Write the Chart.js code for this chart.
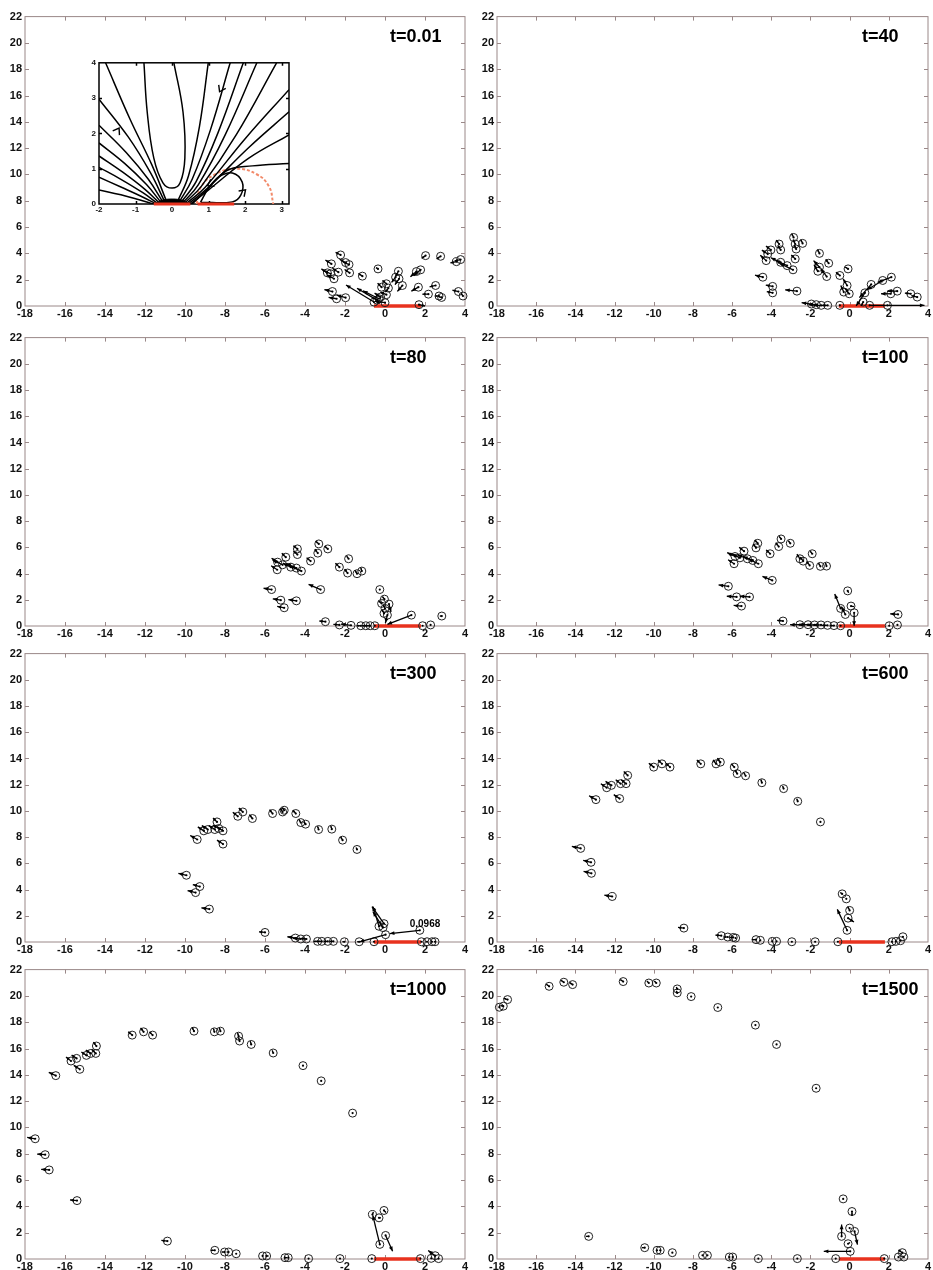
<!DOCTYPE html>
<html>
<head>
<meta charset="utf-8">
<script src="https://cdn.jsdelivr.net/npm/chart.js@4.4.1/dist/chart.umd.min.js"></script>
<style>
  body { margin: 0; background: #fff; width: 933px; height: 1270px; overflow: hidden; position: relative; }
  canvas { position: absolute; }
</style>
</head>
<body>
<script>
// axis ticks
const xTicks = [-18, -16, -14, -12, -10, -8, -6, -4, -2, 0, 2, 4];
const yTicks = [0, 2, 4, 6, 8, 10, 12, 14, 16, 18, 20, 22];
const insetXTicks = [-2, -1, 0, 1, 2, 3];
const insetYTicks = [0, 1, 2, 3, 4];

// red plate on the wall
const plateX = [-0.55, 1.8];

// particles per snapshot: [x, y, u, v]  (position + velocity arrow)
const t001 = [
  [-2.22,3.88,-0.25,0.2],[-2.68,3.2,-0.3,0.3],[-1.97,3.3,-0.3,0.25],[-1.8,3.15,-0.3,0.2],
  [-2.88,2.52,-0.3,0.3],[-2.72,2.45,-0.35,0.25],[-2.33,2.57,-0.3,0.3],[-2.55,2.07,-0.35,0.3],
  [-1.77,2.52,-0.25,0.25],[-1.13,2.27,-0.2,0.2],[-0.35,2.82,-0.1,0.1],[-2.63,1.1,-0.4,0.15],
  [-2.42,0.55,-0.4,0.1],[-1.97,0.63,-0.45,0.2],[-0.17,1.43,-0.2,0.3],[0.07,1.69,-0.2,0.25],
  [0.17,1.36,-0.15,-0.3],[0.07,0.86,-0.3,0.2],[-0.22,0.68,-0.3,0.3],[-0.55,0.3,-1.4,1.3],
  [-0.4,0.45,-1.0,0.9],[-0.3,0.55,-0.8,0.6],[0.0,0.25,-0.5,0.1],[0.53,2.19,-0.2,-0.4],
  [0.67,2.64,-0.15,-0.4],[0.7,2.07,-0.2,-0.45],[0.87,1.56,-0.25,-0.45],[1.57,2.62,-0.3,-0.4],
  [1.78,2.75,-0.35,-0.45],[1.67,1.43,-0.35,-0.3],[2.03,3.83,-0.2,-0.2],[2.78,3.78,-0.2,-0.2],
  [2.53,1.56,-0.3,-0.1],[2.17,0.9,-0.3,0],[2.7,0.76,-0.2,0],[2.83,0.65,-0.15,0.05],
  [3.57,3.37,-0.3,-0.1],[3.78,3.53,-0.3,-0.1],[3.67,1.1,-0.3,0.1],[3.9,0.76,-0.1,0.2],
  [1.7,0.1,0.3,-0.1]
];
const t40 = [
  [-2.86,5.21,-0.1,0.3],[-2.78,4.71,-0.1,0.35],[-2.4,4.76,-0.1,0.3],[-2.73,4.33,-0.1,0.3],
  [-3.6,4.71,-0.15,0.3],[-3.52,4.26,-0.15,0.35],[-4.02,4.26,-0.25,0.3],[-4.18,3.95,-0.3,0.3],
  [-4.26,3.45,-0.3,0.4],[-3.52,3.32,-0.5,0.35],[-3.19,3.07,-0.6,0.4],[-2.89,2.75,-0.7,0.5],
  [-2.78,3.58,-0.2,0.3],[-1.54,4.0,-0.1,0.3],[-1.54,2.95,-0.3,0.5],[-1.07,3.25,-0.15,0.3],
  [-1.17,2.24,-0.3,0.6],[-1.62,2.64,-0.2,0.5],[-0.08,2.82,-0.15,0.15],[-0.5,2.32,-0.2,0.25],
  [-0.13,1.56,-0.2,0.5],[-0.3,1.06,-0.15,0.5],[-0.02,0.93,-0.2,0.4],[-0.5,0.05,0,0],
  [-1.12,0.05,-0.3,0],[-1.45,0.05,-0.4,0],[-1.7,0.1,-0.4,0],[-1.95,0.15,-0.5,0.1],
  [-4.43,2.19,-0.4,0.15],[-3.93,1.49,-0.35,0.1],[-3.93,1.0,-0.3,0.1],[-2.69,1.13,-0.6,0.1],
  [0.78,1.0,-0.45,-1.0],[1.1,1.64,-0.6,-1.0],[1.69,1.94,-0.8,-0.7],[2.13,2.19,-0.7,-0.4],
  [2.43,1.13,-0.5,0],[2.1,0.93,-0.5,0],[3.12,0.93,-0.3,0.05],[3.45,0.68,-0.3,0.1],
  [0.69,0.3,-0.1,-0.3],[1.02,0.05,2.8,0],[1.93,0.05,0,0]
];
const t80 = [
  [-3.31,6.26,-0.15,0.2],[-3.36,5.56,-0.15,0.3],[-2.86,5.88,-0.15,0.2],[-4.38,5.88,-0.2,0.25],
  [-4.38,5.45,-0.2,0.25],[-4.96,5.25,-0.2,0.3],[-5.37,4.87,-0.3,0.3],[-5.12,4.67,-0.5,0.35],
  [-5.39,4.29,-0.3,0.3],[-4.71,4.49,-0.4,0.3],[-4.43,4.42,-0.5,0.35],[-4.18,4.19,-0.6,0.4],
  [-3.72,4.95,-0.2,0.25],[-1.82,5.13,-0.1,0.2],[-2.28,4.49,-0.2,0.3],[-1.87,4.04,-0.15,0.3],
  [-1.4,3.99,-0.1,0.25],[-1.16,4.19,-0.05,0.25],[-5.67,2.78,-0.4,0.1],[-5.21,1.97,-0.4,0.1],
  [-5.04,1.39,-0.35,0.1],[-4.43,1.92,-0.4,0.1],[-3.22,2.78,-0.6,0.4],[-2.98,0.33,-0.3,0.05],
  [-2.28,0.08,-0.3,0.05],[-1.7,0.05,-0.5,0.1],[-1.21,0.02,-0.2,0],[-0.96,0.02,-0.2,0],
  [-0.74,0.02,-0.2,0],[-0.51,0.02,0,0],[-0.26,2.78,0,0.1],[-0.03,2.05,-0.1,0.2],
  [-0.17,1.72,-0.15,0.2],[0.2,1.67,0.1,-0.6],[0,1.34,-0.1,0.3],[-0.05,0.96,-0.1,0.3],
  [0.12,0.83,-0.1,-0.6],[1.32,0.83,-1.2,-0.7],[1.88,0.02,0,0],[2.28,0.08,0.1,0],
  [2.84,0.76,-0.1,0]
];
const t100 = [
  [-3.5,6.64,-0.1,0.2],[-3.62,6.06,-0.15,0.3],[-3.03,6.31,-0.1,0.2],[-4.69,6.31,-0.15,0.25],
  [-4.78,5.96,-0.15,0.3],[-4.06,5.51,-0.2,0.3],[-5.39,5.71,-0.25,0.3],[-5.85,5.3,-0.4,0.3],
  [-5.6,5.2,-0.4,0.3],[-5.22,5.13,-0.5,0.3],[-4.94,5.0,-0.5,0.3],[-4.66,4.75,-0.5,0.35],
  [-5.9,4.75,-0.3,0.3],[-2.54,5.13,-0.15,0.35],[-2.37,4.95,-0.15,0.3],[-1.91,5.51,-0.1,0.2],
  [-2.04,4.62,-0.15,0.3],[-1.49,4.55,-0.1,0.25],[-1.18,4.57,-0.05,0.25],[-6.19,3.03,-0.5,0.1],
  [-5.77,2.22,-0.5,0.05],[-5.11,2.22,-0.5,0.05],[-5.52,1.52,-0.4,0.05],[-3.95,3.48,-0.5,0.3],
  [-3.4,0.38,-0.3,0.05],[-2.54,0.1,-0.5,0],[-2.12,0.1,-0.5,0],[-1.79,0.08,-0.4,0],
  [-1.46,0.08,-0.4,0],[-1.13,0.05,-0.3,0],[-0.8,0.03,-0.2,0],[-0.46,0.02,0,0],
  [-0.1,2.68,0.05,-0.15],[-0.46,1.34,-0.3,1.1],[-0.22,0.88,-0.2,0.6],[0.07,1.52,0.15,-0.05],
  [0.23,1.01,0,-1.0],[2.02,0.02,0,0],[2.44,0.08,0,0],[2.47,0.88,-0.4,0.05]
];
const t300 = [
  [-1.4,7.06,-0.05,0.15],[-2.12,7.77,-0.1,0.25],[-2.66,8.61,-0.05,0.25],[-3.32,8.58,-0.05,0.25],
  [-3.97,8.99,-0.1,0.2],[-4.21,9.11,-0.1,0.25],[-4.46,9.8,-0.15,0.25],[-5.04,10.05,-0.1,0.2],
  [-5.12,9.92,-0.1,0.25],[-5.62,9.8,-0.15,0.3],[-6.63,9.42,-0.15,0.3],[-7.11,9.92,-0.2,0.3],
  [-7.36,9.59,-0.25,0.3],[-8.1,8.48,-0.3,0.3],[-8.31,8.66,-0.3,0.25],[-8.4,9.16,-0.2,0.3],
  [-8.51,8.58,-0.3,0.3],[-8.86,8.58,-0.3,0.3],[-9.06,8.48,-0.3,0.3],[-8.1,7.47,-0.3,0.3],
  [-9.39,7.82,-0.35,0.3],[-9.93,5.09,-0.4,0.15],[-9.26,4.23,-0.35,0.15],[-9.47,3.77,-0.4,0.15],
  [-8.78,2.51,-0.4,0.1],[-6.0,0.73,-0.3,0.05],[-4.48,0.3,-0.4,0.1],[-4.21,0.23,-0.4,0.05],
  [-3.93,0.23,-0.3,0.05],[-3.37,0.05,-0.2,0],[-3.16,0.05,-0.2,0],[-2.86,0.05,-0.2,0],
  [-2.58,0.05,-0.2,0],[-2.03,0.02,-0.1,0],[-1.29,0.02,-0.1,0],[-0.55,0.02,0,0],
  [0.03,0.56,-1.3,-0.55],[1.74,0.89,-1.5,-0.25],[-0.05,1.4,-0.6,1.3],[-0.3,1.2,-0.3,1.5],
  [-0.1,1.1,-0.5,1.2],[1.82,0.02,0,0],[2.1,0.02,0,0],[2.35,0.02,0,0],[2.5,0.02,0,0]
];
const t600 = [
  [-1.49,9.16,0,0.15],[-2.65,10.73,-0.05,0.2],[-3.37,11.7,-0.05,0.2],[-4.48,12.15,-0.05,0.25],
  [-5.31,12.68,-0.1,0.25],[-5.74,12.84,-0.1,0.25],[-5.89,13.34,-0.15,0.25],[-6.6,13.72,-0.15,0.3],
  [-6.82,13.59,-0.15,0.3],[-7.6,13.59,-0.2,0.3],[-9.17,13.34,-0.2,0.3],[-9.58,13.59,-0.2,0.3],
  [-10.0,13.34,-0.25,0.3],[-11.33,12.71,-0.2,0.3],[-11.41,12.08,-0.25,0.3],[-11.69,12.08,-0.25,0.3],
  [-11.74,10.94,-0.3,0.3],[-12.16,11.95,-0.3,0.3],[-12.4,11.77,-0.3,0.3],[-12.95,10.86,-0.35,0.3],
  [-13.73,7.14,-0.45,0.15],[-13.2,6.08,-0.4,0.15],[-13.18,5.24,-0.4,0.15],[-12.12,3.47,-0.4,0.1],
  [-8.46,1.06,-0.3,0.05],[-6.55,0.48,-0.3,0.05],[-6.22,0.38,-0.2,0],[-5.94,0.35,-0.2,0],
  [-5.82,0.3,-0.1,0],[-4.78,0.18,-0.2,0],[-4.56,0.13,-0.1,0],[-3.95,0.05,-0.1,0],
  [-3.73,0.05,-0.05,0],[-2.95,0.02,0,0],[-1.76,0.02,0,0],[-0.6,0.02,0,0],
  [-0.38,3.67,-0.1,0.1],[-0.17,3.29,-0.05,0.05],[0,2.41,-0.1,0.3],[-0.08,1.82,0.3,-0.3],
  [-0.13,0.89,-0.5,1.6],[2.16,0.02,0,0],[2.36,0.05,0,0],[2.6,0.1,0,0],[2.72,0.4,0,0]
];
const t1000 = [
  [-1.62,11.09,0,0.1],[-3.19,13.54,0,0.15],[-4.1,14.7,0,0.15],[-5.59,15.66,-0.05,0.2],
  [-6.69,16.31,-0.05,0.25],[-7.27,16.57,-0.05,0.25],[-7.32,16.94,-0.05,0.25],[-8.23,17.32,-0.05,0.25],
  [-8.53,17.27,-0.05,0.25],[-9.55,17.32,-0.1,0.3],[-11.62,17.02,-0.15,0.25],[-12.07,17.27,-0.15,0.3],
  [-12.64,17.02,-0.2,0.25],[-14.43,16.19,-0.15,0.3],[-14.46,15.63,-0.2,0.3],[-14.71,15.63,-0.25,0.25],
  [-14.93,15.48,-0.25,0.25],[-15.42,15.25,-0.25,0.25],[-15.7,15.05,-0.25,0.3],[-15.26,14.42,-0.3,0.3],
  [-16.46,13.94,-0.35,0.25],[-17.49,9.14,-0.4,0.1],[-16.99,7.93,-0.4,0.05],[-16.79,6.77,-0.4,0.05],
  [-15.4,4.44,-0.35,0.05],[-10.88,1.36,-0.3,0.05],[-8.51,0.66,-0.2,0],[-8.02,0.53,-0.15,0],
  [-7.82,0.53,-0.1,0],[-7.44,0.4,-0.1,0],[-6.12,0.23,-0.1,0],[-5.92,0.23,0.1,0],
  [-5.0,0.1,0.1,0],[-4.84,0.1,0,0],[-3.82,0.03,0,0],[-2.25,0.03,0,0],
  [-0.66,0.03,0,0],[1.77,0.03,0,0],[2.31,0.05,0,0],[2.51,0.25,-0.35,0.4],
  [2.68,0.03,0,0],[-0.63,3.38,0.05,0.2],[-0.3,3.13,0.1,0],[-0.05,3.69,0.1,-0.15],
  [-0.26,1.11,-0.35,2.2],[0.03,1.79,0.35,-1.2]
];
const t1500 = [
  [-1.71,12.98,0,0.05],[-3.73,16.31,0,0.05],[-4.81,17.78,0,0.05],[-6.73,19.12,0,0.1],
  [-8.09,19.95,-0.05,0.1],[-8.8,20.23,-0.05,0.15],[-8.8,20.53,-0.05,0.15],[-9.87,20.98,-0.1,0.15],
  [-10.25,20.98,-0.1,0.15],[-11.56,21.09,-0.15,0.15],[-14.14,20.86,-0.15,0.15],[-14.59,21.04,-0.15,0.15],
  [-15.34,20.73,-0.15,0.15],[-17.46,19.72,-0.2,0.1],[-17.68,19.22,-0.15,0.05],[-17.88,19.14,-0.1,0],
  [-13.32,1.72,-0.15,0],[-10.46,0.86,-0.15,0],[-9.83,0.66,-0.1,0],[-9.67,0.66,-0.1,0],
  [-9.05,0.48,-0.1,0],[-7.51,0.28,0,0],[-7.26,0.28,0,0],[-6.14,0.15,0,0],
  [-5.97,0.15,0,0],[-4.66,0.03,0,0],[-2.67,0.03,0,0],[-0.71,0.03,0,0],
  [1.77,0.03,0,0],[2.49,0.15,0,0],[2.69,0.48,-0.2,0.2],[2.77,0.15,0,0],
  [-0.33,4.57,0.05,0],[0.12,3.61,0,-0.35],[0,2.35,0.05,0.05],[0.25,2.1,0.15,-1.0],
  [-0.41,1.72,0,0.9],[-0.08,1.16,0.1,0.1],[0.03,0.58,-1.35,0]
];

// inset: streamlines near the wall (x, y)
const insetLines = [
  [[-0.5,0],[-0.9,0.12],[-1.4,0.26],[-2,0.4]],
  [[-0.45,0.01],[-0.85,0.22],[-1.4,0.48],[-2,0.76]],
  [[-0.4,0.02],[-0.8,0.32],[-1.4,0.7],[-2,1.04]],
  [[-0.35,0.03],[-0.75,0.42],[-1.35,0.9],[-2,1.36]],
  [[-0.3,0.04],[-0.7,0.55],[-1.3,1.15],[-2,1.73]],
  [[-0.25,0.05],[-0.65,0.7],[-1.25,1.45],[-2,2.23]],
  [[-0.2,0.06],[-0.6,0.9],[-1.2,1.9],[-2,2.97]],
  [[-0.15,0.07],[-0.55,1.1],[-1.15,2.4],[-1.82,4]],
  [[-0.77,4],[-0.68,2.6],[-0.5,1.3],[-0.25,0.6],[0,0.45],[0.22,0.6],[0.35,1.3],[0.3,2.6],[0.05,4]],
  [[0.15,0.07],[0.45,0.8],[0.75,2.2],[0.99,4]],
  [[0.2,0.06],[0.55,0.7],[1.05,2.1],[1.59,4]],
  [[0.25,0.05],[0.65,0.62],[1.25,2.0],[1.95,4]],
  [[0.3,0.04],[0.72,0.55],[1.45,1.95],[2.32,4]],
  [[0.35,0.03],[0.8,0.5],[1.75,1.95],[2.86,4]],
  [[0.4,0.02],[0.9,0.47],[2.0,1.85],[3.2,3.24]],
  [[0.45,0.01],[0.95,0.43],[2.1,1.6],[3.2,2.61]],
  [[0.5,0],[1.0,0.4],[2.1,1.3],[3.2,1.96]],
  [[0.55,0],[0.95,0.4],[1.5,0.95],[2.2,1.08],[3.2,1.15]],
  [[0.78,0.05],[1.0,0.45],[1.3,0.78],[1.65,0.88],[1.92,0.62],[1.88,0.25],[1.65,0.06],[0.78,0.05]]
];
const insetCore = [[-0.45,0],[-0.3,0.1],[0,0.14],[0.3,0.1],[0.45,0]];
const insetArc = [[0.67,0],[0.8,0.5],[1.2,0.85],[1.75,1.0],[2.3,0.85],[2.65,0.5],[2.77,0]];
const insetPlates = [[[-0.5,0],[0.5,0]], [[0.7,0],[1.7,0]]];
const insetArrows = [[1.42,3.42,-0.12,-0.24],[-1.55,1.98,0.1,0.17],[1.15,0.62,-0.18,-0.1],[1.86,0.25,0.15,0.15]];

const FONT = '"Liberation Sans", Arial, Helvetica, sans-serif';

// box + inward tick marks on four sides
const frame = {
  id: 'frame',
  beforeDatasetsDraw(chart, args, opts) {
    const { ctx, chartArea: a, scales: { x, y } } = chart;
    ctx.save();
    ctx.strokeStyle = opts.color;
    ctx.lineWidth = opts.width;
    ctx.strokeRect(a.left, a.top, a.right - a.left, a.bottom - a.top);
    ctx.beginPath();
    x.ticks.forEach(t => {
      const p = Math.round(x.getPixelForValue(t.value)) + 0.5;
      if (p < a.left + 2 || p > a.right - 2) return;
      ctx.moveTo(p, a.bottom); ctx.lineTo(p, a.bottom - opts.tick);
      ctx.moveTo(p, a.top); ctx.lineTo(p, a.top + opts.tick);
    });
    y.ticks.forEach(t => {
      const p = Math.round(y.getPixelForValue(t.value)) + 0.5;
      if (p < a.top + 2 || p > a.bottom - 2) return;
      ctx.moveTo(a.left, p); ctx.lineTo(a.left + opts.tick, p);
      ctx.moveTo(a.right, p); ctx.lineTo(a.right - opts.tick, p);
    });
    ctx.stroke();
    ctx.restore();
  }
};

// velocity arrows from each particle centre
const quiver = {
  id: 'quiver',
  afterDatasetsDraw(chart, args, opts) {
    if (!opts.vectors) return;
    const { ctx, scales: { x, y } } = chart;
    ctx.save();
    ctx.strokeStyle = '#000';
    ctx.fillStyle = '#000';
    ctx.lineWidth = opts.lw || 1.3;
    opts.vectors.forEach(([px, py, u, v]) => {
      const x0 = x.getPixelForValue(px), y0 = y.getPixelForValue(py);
      const x1 = x.getPixelForValue(px + u), y1 = y.getPixelForValue(py + v);
      const len = Math.hypot(x1 - x0, y1 - y0);
      if (opts.dot) {
        ctx.beginPath(); ctx.arc(x0, y0, 1.1, 0, 2 * Math.PI); ctx.fill();
      }
      if (len < 2) return;
      const ang = Math.atan2(y1 - y0, x1 - x0);
      if (opts.chevron) {
        const h = opts.head;
        ctx.beginPath();
        ctx.moveTo(x1 - h * Math.cos(ang - 0.6), y1 - h * Math.sin(ang - 0.6));
        ctx.lineTo(x1, y1);
        ctx.lineTo(x1 - h * Math.cos(ang + 0.6), y1 - h * Math.sin(ang + 0.6));
        ctx.stroke();
        return;
      }
      const h = Math.min(opts.head || 5, len * 0.6);
      ctx.beginPath(); ctx.moveTo(x0, y0); ctx.lineTo(x1, y1); ctx.stroke();
      ctx.beginPath();
      ctx.moveTo(x1, y1);
      ctx.lineTo(x1 - h * Math.cos(ang - 0.4), y1 - h * Math.sin(ang - 0.4));
      ctx.lineTo(x1 - h * Math.cos(ang + 0.4), y1 - h * Math.sin(ang + 0.4));
      ctx.closePath(); ctx.fill();
    });
    ctx.restore();
  }
};

// panel title and notes
const labels = {
  id: 'labels',
  afterDraw(chart, args, opts) {
    const { ctx, chartArea: a, scales: { x, y } } = chart;
    ctx.save();
    ctx.fillStyle = '#000';
    if (opts.title) {
      ctx.font = 'bold 18px ' + FONT;
      ctx.textAlign = 'left';
      ctx.textBaseline = 'alphabetic';
      ctx.fillText(opts.title, a.left + 365, a.top + 25);
    }
    (opts.notes || []).forEach(n => {
      ctx.font = 'bold 10px ' + FONT;
      ctx.textAlign = 'center';
      ctx.textBaseline = 'middle';
      ctx.fillText(n.text, x.getPixelForValue(n.x), y.getPixelForValue(n.y));
    });
    ctx.restore();
  }
};

function addCanvas(left, top, w, h) {
  const c = document.createElement('canvas');
  c.width = w; c.height = h;
  c.style.left = left + 'px'; c.style.top = top + 'px';
  c.style.width = w + 'px'; c.style.height = h + 'px';
  document.body.appendChild(c);
  return c;
}

const panels = [
  { title: 't=0.01', pts: t001 },
  { title: 't=40', pts: t40 },
  { title: 't=80', pts: t80 },
  { title: 't=100', pts: t100 },
  { title: 't=300', pts: t300, notes: [{ text: '0.0968', x: 2.0, y: 1.35 }] },
  { title: 't=600', pts: t600 },
  { title: 't=1000', pts: t1000 },
  { title: 't=1500', pts: t1500 }
];

const rowTop = [15, 336, 652, 968];
const rowH = [291, 290, 290, 291];
const cols = [{ left: 0, w: 470, padR: 4 }, { left: 472, w: 461, padR: 3 }];

const tickFont = { family: FONT, size: 11, weight: 'bold' };

panels.forEach((p, i) => {
  const col = cols[i % 2], r = Math.floor(i / 2);
  const padTop = 8, xAxisH = 16;
  const cv = addCanvas(col.left, rowTop[r] - padTop, col.w, padTop + rowH[r] + xAxisH);
  new Chart(cv, {
    type: 'scatter',
    data: {
      datasets: [
        {
          data: p.pts.map(d => ({ x: d[0], y: d[1] })),
          pointRadius: 4,
          pointBorderWidth: 1,
          pointBorderColor: '#222',
          pointBackgroundColor: 'rgba(0,0,0,0)',
          showLine: false,
          clip: false
        },
        {
          type: 'line',
          data: plateX.map(v => ({ x: v, y: 0 })),
          borderColor: '#e8321e',
          borderWidth: 3.5,
          pointRadius: 0,
          clip: false
        }
      ]
    },
    options: {
      responsive: false,
      devicePixelRatio: 1,
      animation: false,
      events: [],
      layout: { padding: { top: padTop, right: col.padR, left: 0, bottom: 0 } },
      scales: {
        x: {
          type: 'linear', min: -18, max: 4,
          afterBuildTicks: s => { s.ticks = xTicks.map(v => ({ value: v })); },
          afterFit: s => { s.height = xAxisH; },
          grid: { display: false, drawTicks: false },
          border: { display: false },
          ticks: { padding: 1, color: '#111', font: tickFont, maxRotation: 0, autoSkip: false }
        },
        y: {
          type: 'linear', min: 0, max: 22,
          afterBuildTicks: s => { s.ticks = yTicks.map(v => ({ value: v })); },
          afterFit: s => { s.width = 25; },
          grid: { display: false, drawTicks: false },
          border: { display: false },
          ticks: { padding: 3, color: '#111', font: tickFont, autoSkip: false }
        }
      },
      plugins: {
        legend: { display: false },
        tooltip: { enabled: false },
        frame: { color: '#9a8888', width: 1, tick: 4 },
        quiver: { vectors: p.pts, dot: true, head: 5 },
        labels: { title: p.title, notes: p.notes }
      }
    },
    plugins: [frame, quiver, labels]
  });
});

// inset streamline plot inside the first panel
(function () {
  const cv = addCanvas(80, 55, 215, 161);
  const lineDs = pts => ({
    type: 'line',
    data: pts.map(d => ({ x: d[0], y: d[1] })),
    borderColor: '#000', borderWidth: 1.5, pointRadius: 0, tension: 0.4, fill: false
  });
  const datasets = [];
  insetPlates.forEach(s => datasets.push({
    type: 'line', data: s.map(d => ({ x: d[0], y: d[1] })),
    borderColor: '#e8321e', borderWidth: 3, pointRadius: 0, clip: false
  }));
  datasets.push({
    type: 'line', data: insetCore.map(d => ({ x: d[0], y: d[1] })),
    borderColor: '#000', backgroundColor: '#000', borderWidth: 1, pointRadius: 0, tension: 0.4, fill: 'origin'
  });
  insetLines.forEach(l => datasets.push(lineDs(l)));
  datasets.push({
    type: 'line', data: insetArc.map(d => ({ x: d[0], y: d[1] })),
    borderColor: '#f28a6a', borderWidth: 2, borderDash: [3, 2], pointRadius: 0, tension: 0.45
  });
  const small = { family: FONT, size: 8, weight: 'bold' };
  new Chart(cv, {
    type: 'scatter',
    data: { datasets },
    options: {
      responsive: false,
      devicePixelRatio: 1,
      animation: false,
      events: [],
      layout: { padding: { top: 5, right: 6, left: 0, bottom: 0 } },
      scales: {
        x: {
          type: 'linear', min: -2, max: 3.2,
          afterBuildTicks: s => { s.ticks = insetXTicks.map(v => ({ value: v })); },
          afterFit: s => { s.height = 12; },
          grid: { display: false, drawTicks: false },
          border: { display: false },
          ticks: { padding: 1, color: '#111', font: small, maxRotation: 0, autoSkip: false }
        },
        y: {
          type: 'linear', min: 0, max: 4,
          afterBuildTicks: s => { s.ticks = insetYTicks.map(v => ({ value: v })); },
          afterFit: s => { s.width = 19; },
          grid: { display: false, drawTicks: false },
          border: { display: false },
          ticks: { padding: 3, color: '#111', font: small, autoSkip: false }
        }
      },
      plugins: {
        legend: { display: false },
        tooltip: { enabled: false },
        frame: { color: '#000', width: 1.5, tick: 3 },
        quiver: { vectors: insetArrows, chevron: true, head: 7, lw: 1.4 },
        labels: {}
      }
    },
    plugins: [frame, quiver, labels]
  });
})();
</script>
